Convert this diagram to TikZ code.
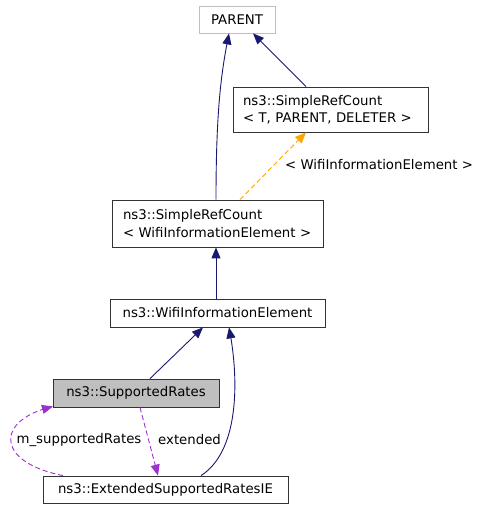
\documentclass[tikz,border=0pt]{standalone}
\usepackage{fontspec}
\setmainfont{DejaVu Sans}
\usetikzlibrary{arrows.meta,bending}
\definecolor{navy}{HTML}{191970}
\definecolor{edgeorange}{HTML}{FFA500}
\definecolor{edgepurple}{HTML}{9A32CD}
\definecolor{boxgray}{HTML}{BFBFBF}
\tikzset{
  cls/.style={draw=black!80, line width=0.8pt, rectangle, inner sep=0pt, font=\fontsize{13.3}{17.5}\selectfont, align=left, fill=white},
  inh/.style={navy, line width=0.9pt, -{Triangle[length=11pt,width=9pt]}},
  tmpl/.style={edgeorange, line width=0.9pt, dash pattern=on 5pt off 3pt, -{Triangle[length=11pt,width=9pt]}},
  use/.style={edgepurple, line width=0.9pt, dash pattern=on 5pt off 3pt, -{Triangle[length=11pt,width=9pt]}},
  lbl/.style={font=\fontsize{13.3}{16}\selectfont, inner sep=0pt},
}
\begin{document}
\begin{tikzpicture}[x=1pt,y=-1pt]
\useasboundingbox (0,0) rectangle (479,509);
\node[cls, draw=boxgray, minimum width=76pt, minimum height=27pt] (parent) at (237,19.5) {PARENT};
\node[cls, minimum width=195pt, minimum height=45pt, text width=175pt] (srct) at (330.5,109.5) {ns3::SimpleRefCount\\\textless{} T, PARENT, DELETER \textgreater};
\node[cls, minimum width=211pt, minimum height=47pt, text width=189pt] (srcw) at (217.5,223.5) {ns3::SimpleRefCount\\\textless{} WifiInformationElement \textgreater};
\node[cls, minimum width=215pt, minimum height=28pt] (wie) at (217.5,313) {ns3::WifiInformationElement};
\node[cls, fill=boxgray, minimum width=166pt, minimum height=28pt] (sr) at (136,393) {ns3::SupportedRates};
\node[cls, minimum width=245pt, minimum height=27pt] (esr) at (165.5,489.5) {ns3::ExtendedSupportedRatesIE};

\draw[inh] ([xshift=-1.5pt]srcw.north) .. controls +(0,-95) and +(-7,35) .. ([xshift=-8pt]parent.south);
\draw[inh] ([xshift=-24.5pt]srct.north) -- ([xshift=16pt]parent.south);
\draw[tmpl] ([xshift=22.5pt]srcw.north) -- ([xshift=-24.5pt]srct.south);
\node[lbl, anchor=west] (tl) at (285,165) {\textless{} WifiInformationElement \textgreater};
\draw[inh] ([xshift=-1.5pt]wie.north) -- ([xshift=-1.5pt]srcw.south);
\draw[inh] ([xshift=14pt]sr.north) -- ([xshift=-14.5pt]wie.south);
\draw[inh] ([xshift=35.5pt]esr.north) .. controls +(39,-25) and +(10,50) .. ([xshift=11.5pt]wie.south);
\draw[use] ([xshift=4pt]sr.south) -- ([xshift=-7.5pt]esr.north);
\node[lbl, anchor=west] (el) at (158,440) {extended};
\draw[use] ([xshift=-102.5pt]esr.north) .. controls (-5,462) and (-5,420) .. ([xshift=-83pt,yshift=1pt]sr.south);
\node[lbl] (ml) at (79,440) {m\_supportedRates};
\end{tikzpicture}
\end{document}
